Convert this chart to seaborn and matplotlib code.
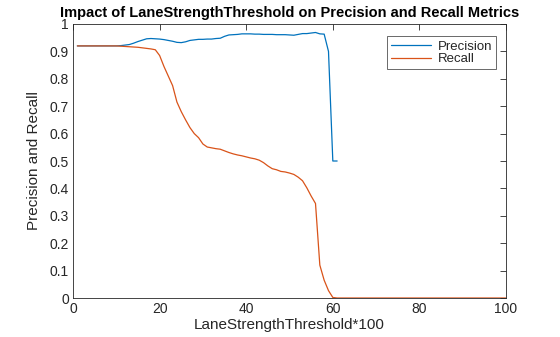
import numpy as np
import pandas as pd
import matplotlib
matplotlib.use("Agg")
import matplotlib.pyplot as plt
import seaborn as sns

threshold = list(range(1, 101))

precision = ([0.92] * 10 +
             [0.921, 0.923, 0.925, 0.930, 0.936, 0.941, 0.946, 0.947, 0.946, 0.945,
              0.943, 0.940, 0.937, 0.933, 0.932, 0.935, 0.940, 0.942, 0.944, 0.944,
              0.945, 0.945, 0.947, 0.948, 0.955, 0.960, 0.961, 0.962, 0.964, 0.964,
              0.964, 0.963, 0.963, 0.962, 0.962, 0.962, 0.961, 0.961, 0.961, 0.960,
              0.959, 0.962, 0.965, 0.965, 0.967, 0.969, 0.964, 0.963, 0.900, 0.500,
              0.500] + [np.nan] * 39)

recall = ([0.92] * 10 +
          [0.919, 0.918, 0.917, 0.916, 0.915, 0.913, 0.911, 0.909, 0.906, 0.885,
           0.845, 0.810, 0.775, 0.715, 0.680, 0.650, 0.622, 0.600, 0.585, 0.562,
           0.551, 0.548, 0.545, 0.543, 0.537, 0.531, 0.526, 0.522, 0.519, 0.515,
           0.511, 0.508, 0.503, 0.494, 0.482, 0.472, 0.468, 0.462, 0.460, 0.456,
           0.451, 0.441, 0.428, 0.402, 0.372, 0.345, 0.120, 0.065, 0.027, 0.002] +
          [0.0] * 40)

series_names = ["Precision", "Recall"]
colors = ["#0072BD", "#D95319"]

df = pd.DataFrame({
    "x": threshold * 2,
    "value": precision + recall,
    "metric": ["Precision"] * 100 + ["Recall"] * 100,
})

sns.set_style("white")
plt.rcParams["font.family"] = ["Liberation Sans", "DejaVu Sans"]

fig = plt.figure(figsize=(5.6, 3.37), dpi=100)
ax = fig.add_axes([0.1304, 0.1157, 0.7732, 0.8131])

sns.lineplot(data=df, x="x", y="value", hue="metric", hue_order=series_names,
             palette=colors, linewidth=0.9, ax=ax, legend=True)

ax.set_xlim(0, 100)
ax.set_ylim(0, 1)
ax.set_xticks([0, 20, 40, 60, 80, 100])
ax.set_yticks([0, 0.1, 0.2, 0.3, 0.4, 0.5, 0.6, 0.7, 0.8, 0.9, 1])
ax.set_yticklabels(["0", "0.1", "0.2", "0.3", "0.4", "0.5", "0.6", "0.7", "0.8", "0.9", "1"])
ax.tick_params(direction="in", top=True, right=True, length=4, width=0.6,
               labelsize=10, colors="#262626", pad=3)
for s in ax.spines.values():
    s.set_visible(True)
    s.set_color("#262626")
    s.set_linewidth(0.6)

ax.set_xlabel("LaneStrengthThreshold*100", fontsize=11, color="#262626", labelpad=1)
ax.set_ylabel("Precision and Recall", fontsize=11, color="#262626", labelpad=6)
ax.set_title("Impact of LaneStrengthThreshold on Precision and Recall Metrics",
             fontsize=10.5, fontweight="bold", color="#000000", pad=5)

leg = ax.legend(loc="upper right", bbox_to_anchor=(0.977, 0.955), frameon=True,
                fancybox=False, fontsize=9.5, handlelength=3.0, borderpad=0.3,
                labelspacing=0.05, handletextpad=0.5, borderaxespad=0)
leg.get_frame().set_edgecolor("#262626")
leg.get_frame().set_linewidth(0.6)

fig.savefig("out.png", dpi=100, facecolor="white")
